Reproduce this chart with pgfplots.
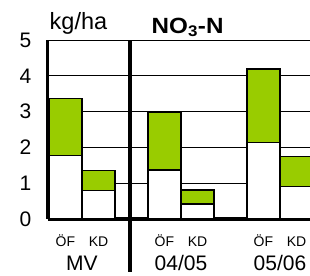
\documentclass[border=0pt]{standalone}
\usepackage{fontspec}
\setmainfont{Liberation Sans}
\usepackage{pgfplots}
\pgfplotsset{compat=1.18}
\definecolor{lime}{RGB}{153,204,0}
\begin{document}
\begin{tikzpicture}
\begin{axis}[
  at={(47.5bp,57bp)}, anchor=south west,
  scale only axis, width=262.5bp, height=179bp,
  xmin=-0.348, xmax=2.303, ymin=0, ymax=5,
  ybar stacked, bar width=0.333,
  axis x line*=bottom, axis y line*=left,
  axis line style={line width=3bp,-},
  ytick={0,1,2,3,4,5}, ymajorgrids,
  grid style={black, line width=0.8bp},
  xtick={-0.167,0.167,0.833,1.167,1.833,2.167},
  xticklabels={ÖF,KD,ÖF,KD,ÖF,KD},
  major tick length=0pt,
  xticklabel style={font=\fontsize{14bp}{16bp}\selectfont, anchor=base, yshift=-28bp},
  yticklabel style={font=\fontsize{21bp}{24bp}\selectfont, anchor=center, xshift=-22bp},
  /pgf/number format/assume math mode=true,
]
\addplot[fill=white, draw=black, line width=1.4bp] coordinates {
  (-0.167,1.77) (0.167,0.80) (0.833,1.37) (1.167,0.42) (1.833,2.13) (2.167,0.90)};
\addplot[fill=lime, draw=black, line width=1.4bp] coordinates {
  (-0.167,1.60) (0.167,0.55) (0.833,1.60) (1.167,0.39) (1.833,2.06) (2.167,0.84)};
\coordinate (s1) at (axis cs:0.485,5);
\coordinate (s2) at (axis cs:0.485,0);
\coordinate (g0) at (axis cs:0,0);
\coordinate (g1) at (axis cs:1,0);
\coordinate (g2) at (axis cs:2,0);
\end{axis}
\draw[line width=3.5bp] (s1) -- ([yshift=-53bp]s2);
\node[font=\fontsize{21bp}{24bp}\selectfont, anchor=base, inner sep=0pt] at ([yshift=-51.5bp]g0) {MV};
\node[font=\fontsize{21bp}{24bp}\selectfont, anchor=base, inner sep=0pt] at ([yshift=-51.5bp]g1) {04/05};
\node[font=\fontsize{21bp}{24bp}\selectfont, anchor=base, inner sep=0pt] at ([yshift=-51.5bp]g2) {05/06};
\node[font=\bfseries\fontsize{22bp}{26bp}\selectfont, anchor=base west, inner sep=0pt] at (151.5bp,242.7bp) {\scalebox{1.1}[1]{NO\textsubscript{3}-N}};
\node[font=\fontsize{23.5bp}{27bp}\selectfont, anchor=base west, inner sep=0pt] at (49.5bp,246bp) {kg/ha};
\pgfresetboundingbox
\path (0,0) rectangle (310bp,276bp);
\end{tikzpicture}
\end{document}
